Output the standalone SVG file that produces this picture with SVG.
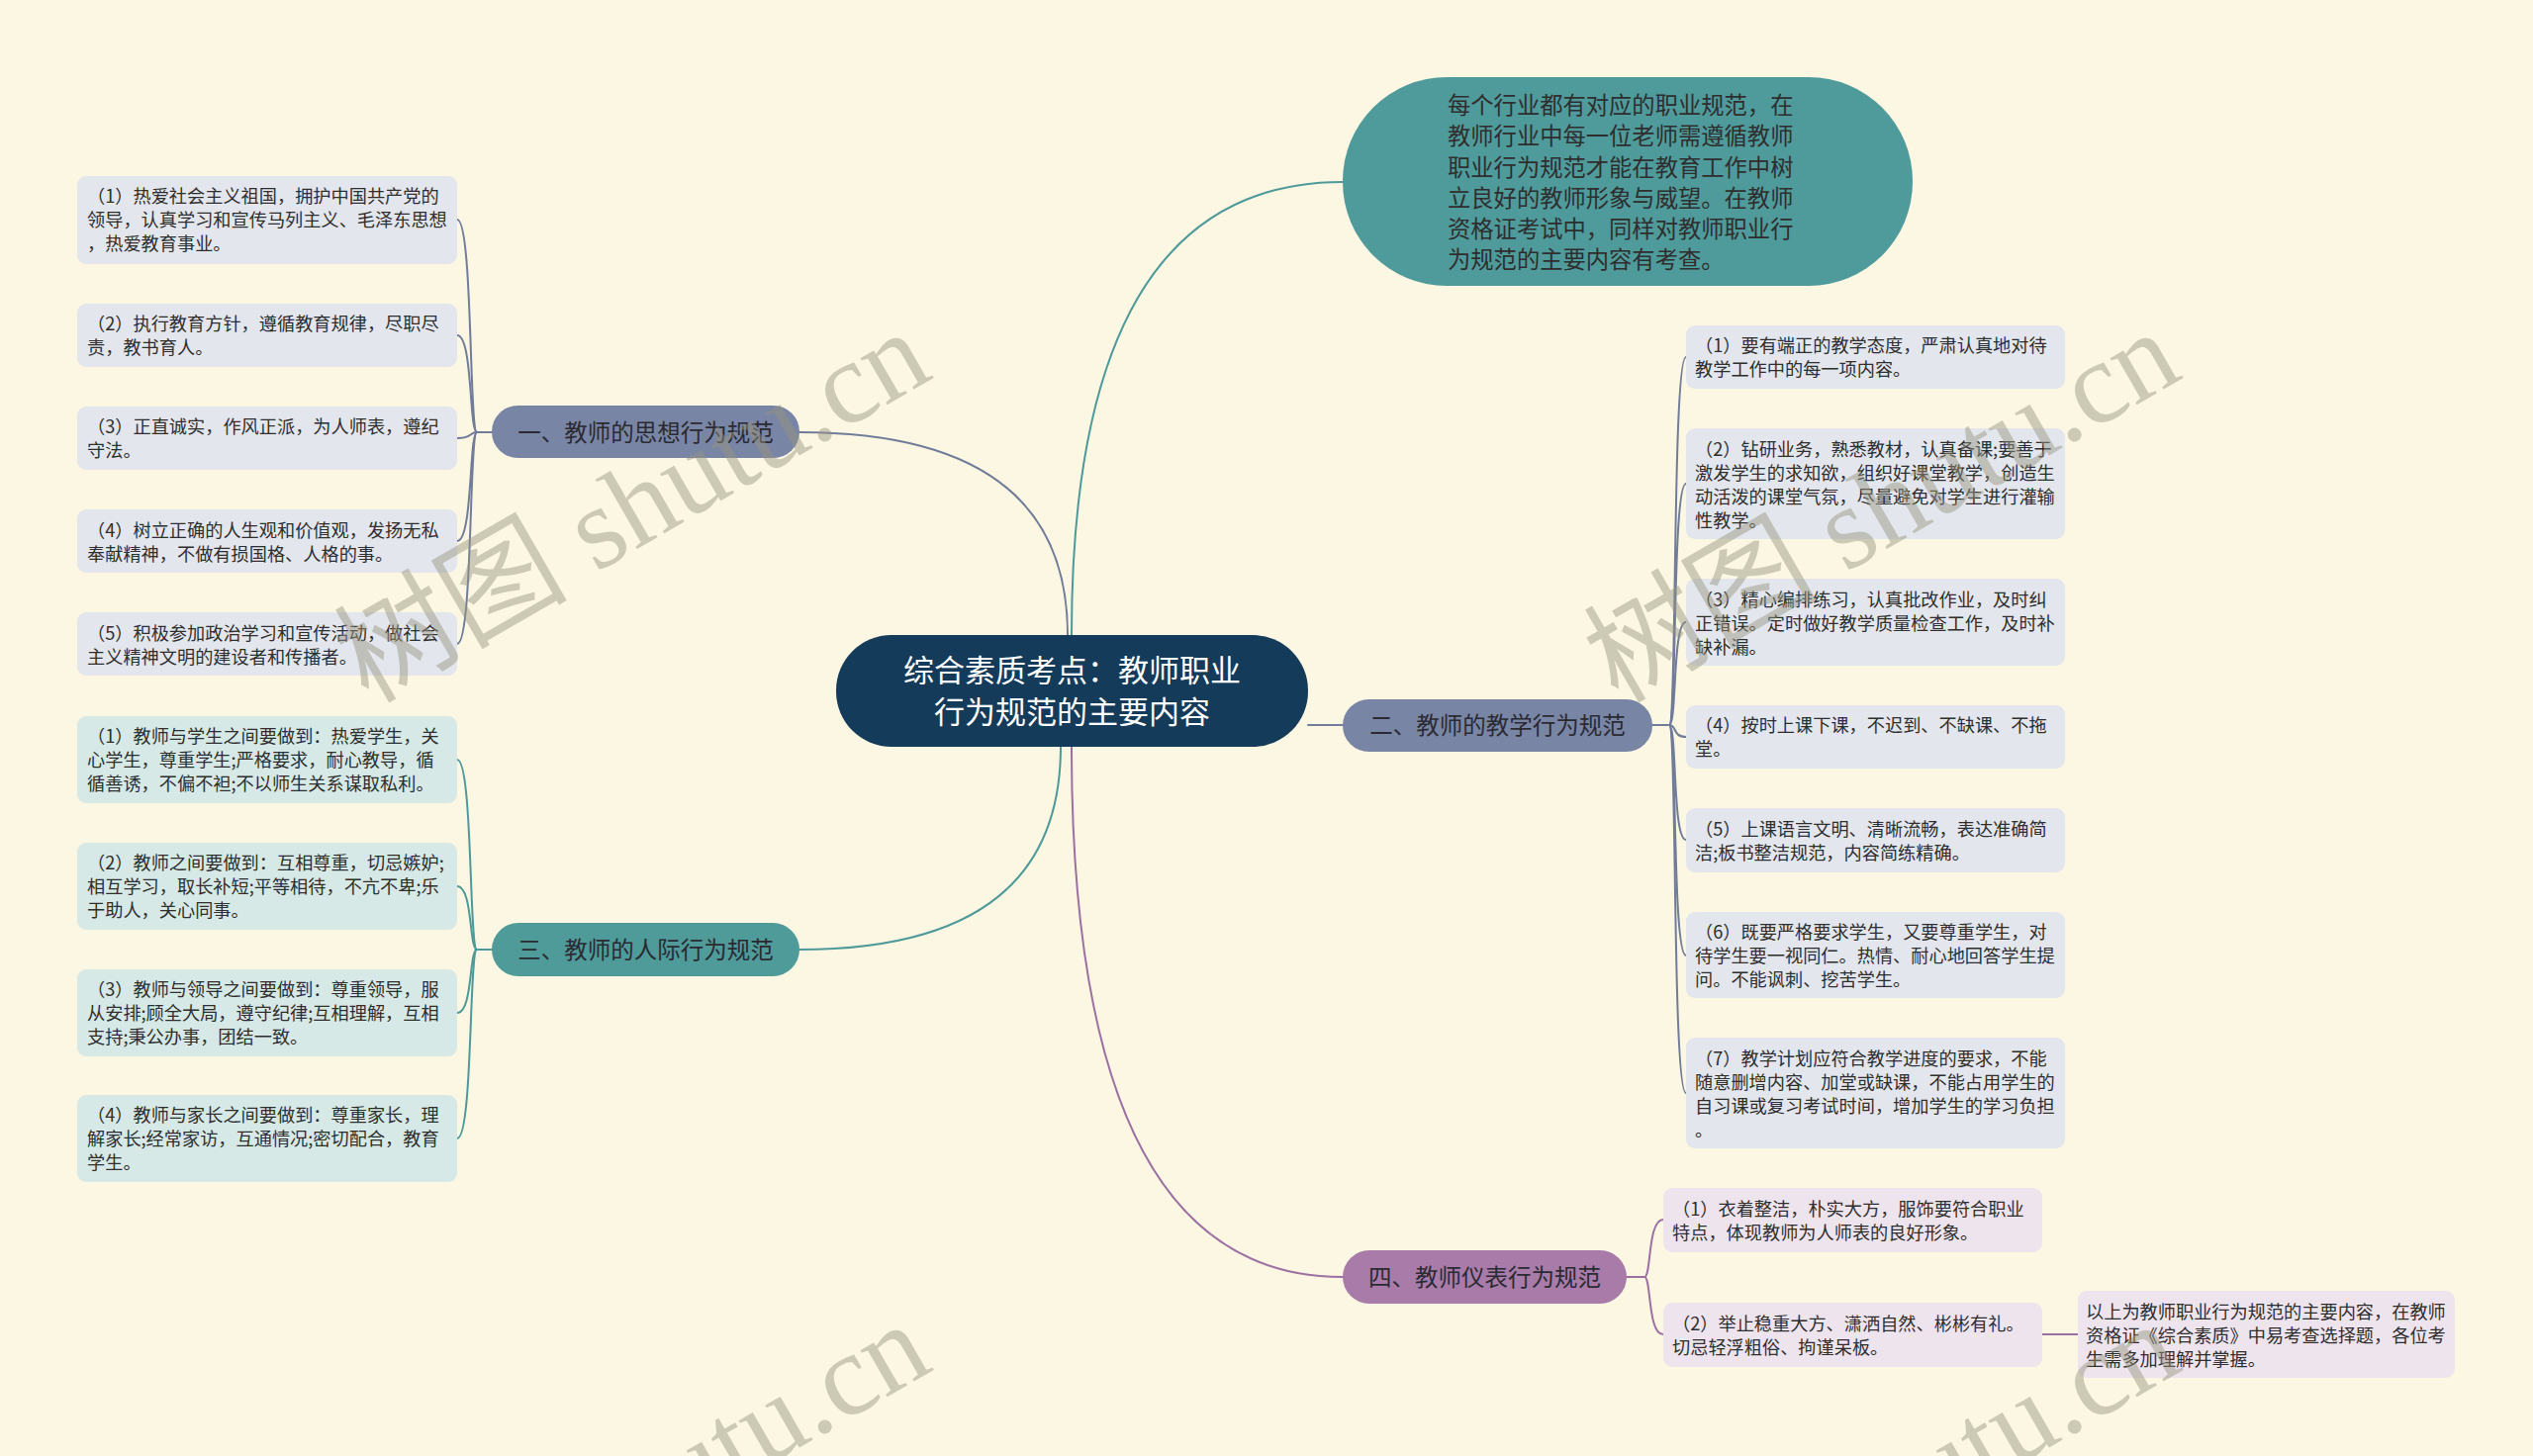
<svg xmlns="http://www.w3.org/2000/svg" width="2560" height="1472" viewBox="0 0 2560 1472">
<style>
text{font-family:"Noto Sans CJK SC","Noto Sans",sans-serif;fill:#2e2e2e}
.leaf text{font-size:18.2px}
.lg{fill:#e3e6ed}
.lt{fill:#d6e9e6}
.lp{fill:#eee4ee}
.br text{font-size:23.5px;text-anchor:middle;fill:#2a2a33}
.c{fill:none;stroke-width:2;stroke-linecap:round}
.cs{stroke:#707c99}
.ct{stroke:#4e9a9a}
.cp{stroke:#9c70a2}
.wm{font-family:"Liberation Serif","Noto Sans CJK SC",serif;font-size:118px;fill:#96947f;fill-opacity:0.47}
</style>
<rect width="2560" height="1472" fill="#fcf7e2"/>
<g id="connectors">
<path class="c cs" d="M1079 642 Q1079 437 808 437" stroke-width="2.6"/>
<path class="c ct" d="M1083 642 Q1083 184 1357 184" stroke-width="2.6"/>
<path class="c cs" d="M1322 733 H1357" stroke-width="2.6"/>
<path class="c ct" d="M1072 755 Q1072 960 808 960" stroke-width="2.6"/>
<path class="c cp" d="M1083 755 Q1083 1291 1357 1291" stroke-width="2.6"/>
<path class="c cs" d="M497 437 H482 C474 437 478 222 462 222"/>
<path class="c cs" d="M497 437 H482 C474 437 478 339 462 339"/>
<path class="c cs" d="M497 437 H482 C474 437 478 443 462 443"/>
<path class="c cs" d="M497 437 H482 C474 437 478 547 462 547"/>
<path class="c cs" d="M497 437 H482 C474 437 478 651 462 651"/>
<path class="c ct" d="M497 960 H482 C474 960 478 768 462 768"/>
<path class="c ct" d="M497 960 H482 C474 960 478 896 462 896"/>
<path class="c ct" d="M497 960 H482 C474 960 478 1024 462 1024"/>
<path class="c ct" d="M497 960 H482 C474 960 478 1151 462 1151"/>
<path class="c cs" d="M1670 733 H1687 C1695 733 1690 361 1704 361"/>
<path class="c cs" d="M1670 733 H1687 C1695 733 1690 489 1704 489"/>
<path class="c cs" d="M1670 733 H1687 C1695 733 1690 629 1704 629"/>
<path class="c cs" d="M1670 733 H1687 C1695 733 1690 745 1704 745"/>
<path class="c cs" d="M1670 733 H1687 C1695 733 1690 849 1704 849"/>
<path class="c cs" d="M1670 733 H1687 C1695 733 1690 966 1704 966"/>
<path class="c cs" d="M1670 733 H1687 C1695 733 1690 1105 1704 1105"/>
<path class="c cp" d="M1644 1291 H1662 C1669 1291 1665 1233 1681 1233"/>
<path class="c cp" d="M1644 1291 H1662 C1669 1291 1665 1349 1681 1349"/>
<path class="c cp" d="M2064 1349 H2100"/>
</g>
<g id="root">
<rect x="845" y="642" width="477" height="113" rx="56" fill="#153b5b"/>
<text x="1083.5" y="689" font-size="31" text-anchor="middle" style="fill:#ffffff">综合素质考点：教师职业</text>
<text x="1083.5" y="731" font-size="31" text-anchor="middle" style="fill:#ffffff">行为规范的主要内容</text>
</g>
<g id="intro">
<rect x="1357" y="78" width="576" height="211" rx="105" fill="#4f9b9b"/>
<text x="1463" y="115" font-size="23.3">每个行业都有对应的职业规范，在</text>
<text x="1463" y="146" font-size="23.3">教师行业中每一位老师需遵循教师</text>
<text x="1463" y="178" font-size="23.3">职业行为规范才能在教育工作中树</text>
<text x="1463" y="209" font-size="23.3">立良好的教师形象与威望。在教师</text>
<text x="1463" y="240" font-size="23.3">资格证考试中，同样对教师职业行</text>
<text x="1463" y="271" font-size="23.3">为规范的主要内容有考查。</text>
</g>
<g id="branch1" class="br">
<rect x="497" y="410" width="311" height="53" rx="26.5" fill="#7985a5"/>
<text x="652.5" y="445.5">一、教师的思想行为规范</text>
</g>
<g id="branch2" class="br">
<rect x="1357" y="707" width="313" height="53" rx="26.5" fill="#7985a5"/>
<text x="1513.5" y="742">二、教师的教学行为规范</text>
</g>
<g id="branch3" class="br">
<rect x="497" y="933" width="311" height="54" rx="27" fill="#4e9b9a"/>
<text x="652.5" y="968.5">三、教师的人际行为规范</text>
</g>
<g id="branch4" class="br">
<rect x="1357" y="1264" width="287" height="54" rx="27" fill="#a87ba8"/>
<text x="1500.5" y="1299.5">四、教师仪表行为规范</text>
</g>
<g id="b1-leaf1" class="leaf">
<rect class="lg" x="78" y="178" width="384" height="89" rx="9"/>
<text x="88" y="205">（1）热爱社会主义祖国，拥护中国共产党的</text>
<text x="88" y="229">领导，认真学习和宣传马列主义、毛泽东思想</text>
<text x="88" y="253">，热爱教育事业。</text>
</g>
<g id="b1-leaf2" class="leaf">
<rect class="lg" x="78" y="307" width="384" height="64" rx="9"/>
<text x="88" y="334">（2）执行教育方针，遵循教育规律，尽职尽</text>
<text x="88" y="358">责，教书育人。</text>
</g>
<g id="b1-leaf3" class="leaf">
<rect class="lg" x="78" y="411" width="384" height="64" rx="9"/>
<text x="88" y="438">（3）正直诚实，作风正派，为人师表，遵纪</text>
<text x="88" y="462">守法。</text>
</g>
<g id="b1-leaf4" class="leaf">
<rect class="lg" x="78" y="515" width="384" height="64" rx="9"/>
<text x="88" y="543">（4）树立正确的人生观和价值观，发扬无私</text>
<text x="88" y="567">奉献精神，不做有损国格、人格的事。</text>
</g>
<g id="b1-leaf5" class="leaf">
<rect class="lg" x="78" y="619" width="384" height="64" rx="9"/>
<text x="88" y="647">（5）积极参加政治学习和宣传活动，做社会</text>
<text x="88" y="671">主义精神文明的建设者和传播者。</text>
</g>
<g id="b3-leaf1" class="leaf">
<rect class="lt" x="78" y="724" width="384" height="88" rx="9"/>
<text x="88" y="751">（1）教师与学生之间要做到：热爱学生，关</text>
<text x="88" y="775">心学生，尊重学生;严格要求，耐心教导，循</text>
<text x="88" y="799">循善诱，不偏不袒;不以师生关系谋取私利。</text>
</g>
<g id="b3-leaf2" class="leaf">
<rect class="lt" x="78" y="852" width="384" height="88" rx="9"/>
<text x="88" y="879">（2）教师之间要做到：互相尊重，切忌嫉妒;</text>
<text x="88" y="903">相互学习，取长补短;平等相待，不亢不卑;乐</text>
<text x="88" y="927">于助人，关心同事。</text>
</g>
<g id="b3-leaf3" class="leaf">
<rect class="lt" x="78" y="980" width="384" height="88" rx="9"/>
<text x="88" y="1007">（3）教师与领导之间要做到：尊重领导，服</text>
<text x="88" y="1031">从安排;顾全大局，遵守纪律;互相理解，互相</text>
<text x="88" y="1055">支持;秉公办事，团结一致。</text>
</g>
<g id="b3-leaf4" class="leaf">
<rect class="lt" x="78" y="1107" width="384" height="88" rx="9"/>
<text x="88" y="1134">（4）教师与家长之间要做到：尊重家长，理</text>
<text x="88" y="1158">解家长;经常家访，互通情况;密切配合，教育</text>
<text x="88" y="1182">学生。</text>
</g>
<g id="b2-leaf1" class="leaf">
<rect class="lg" x="1704" y="329" width="383" height="64" rx="9"/>
<text x="1713" y="356">（1）要有端正的教学态度，严肃认真地对待</text>
<text x="1713" y="380">教学工作中的每一项内容。</text>
</g>
<g id="b2-leaf2" class="leaf">
<rect class="lg" x="1704" y="433" width="383" height="112" rx="9"/>
<text x="1713" y="461">（2）钻研业务，熟悉教材，认真备课;要善于</text>
<text x="1713" y="485">激发学生的求知欲，组织好课堂教学，创造生</text>
<text x="1713" y="509">动活泼的课堂气氛，尽量避免对学生进行灌输</text>
<text x="1713" y="533">性教学。</text>
</g>
<g id="b2-leaf3" class="leaf">
<rect class="lg" x="1704" y="585" width="383" height="88" rx="9"/>
<text x="1713" y="613">（3）精心编排练习，认真批改作业，及时纠</text>
<text x="1713" y="637">正错误。定时做好教学质量检查工作，及时补</text>
<text x="1713" y="661">缺补漏。</text>
</g>
<g id="b2-leaf4" class="leaf">
<rect class="lg" x="1704" y="713" width="383" height="64" rx="9"/>
<text x="1713" y="740">（4）按时上课下课，不迟到、不缺课、不拖</text>
<text x="1713" y="764">堂。</text>
</g>
<g id="b2-leaf5" class="leaf">
<rect class="lg" x="1704" y="817" width="383" height="65" rx="9"/>
<text x="1713" y="845">（5）上课语言文明、清晰流畅，表达准确简</text>
<text x="1713" y="869">洁;板书整洁规范，内容简练精确。</text>
</g>
<g id="b2-leaf6" class="leaf">
<rect class="lg" x="1704" y="922" width="383" height="87" rx="9"/>
<text x="1713" y="949">（6）既要严格要求学生，又要尊重学生，对</text>
<text x="1713" y="973">待学生要一视同仁。热情、耐心地回答学生提</text>
<text x="1713" y="997">问。不能讽刺、挖苦学生。</text>
</g>
<g id="b2-leaf7" class="leaf">
<rect class="lg" x="1704" y="1049" width="383" height="112" rx="9"/>
<text x="1713" y="1077">（7）教学计划应符合教学进度的要求，不能</text>
<text x="1713" y="1101">随意删增内容、加堂或缺课，不能占用学生的</text>
<text x="1713" y="1125">自习课或复习考试时间，增加学生的学习负担</text>
<text x="1713" y="1149">。</text>
</g>
<g id="b4-leaf1" class="leaf">
<rect class="lp" x="1681" y="1201" width="383" height="65" rx="9"/>
<text x="1690" y="1229">（1）衣着整洁，朴实大方，服饰要符合职业</text>
<text x="1690" y="1253">特点，体现教师为人师表的良好形象。</text>
</g>
<g id="b4-leaf2" class="leaf">
<rect class="lp" x="1681" y="1317" width="383" height="65" rx="9"/>
<text x="1690" y="1345">（2）举止稳重大方、潇洒自然、彬彬有礼。</text>
<text x="1690" y="1369">切忌轻浮粗俗、拘谨呆板。</text>
</g>
<g id="note" class="leaf">
<rect class="lp" x="2100" y="1305" width="381" height="88" rx="9"/>
<text x="2108" y="1333">以上为教师职业行为规范的主要内容，在教师</text>
<text x="2108" y="1357">资格证《综合素质》中易考查选择题，各位考</text>
<text x="2108" y="1381">生需多加理解并掌握。</text>
</g>
<g id="watermarks">
<text class="wm" transform="translate(372 712) rotate(-30)">树图 shutu.cn</text>
<text class="wm" transform="translate(1635 712) rotate(-30)">树图 shutu.cn</text>
<text class="wm" transform="translate(372 1715) rotate(-30)">树图 shutu.cn</text>
<text class="wm" transform="translate(1635 1715) rotate(-30)">树图 shutu.cn</text>
</g>
</svg>
